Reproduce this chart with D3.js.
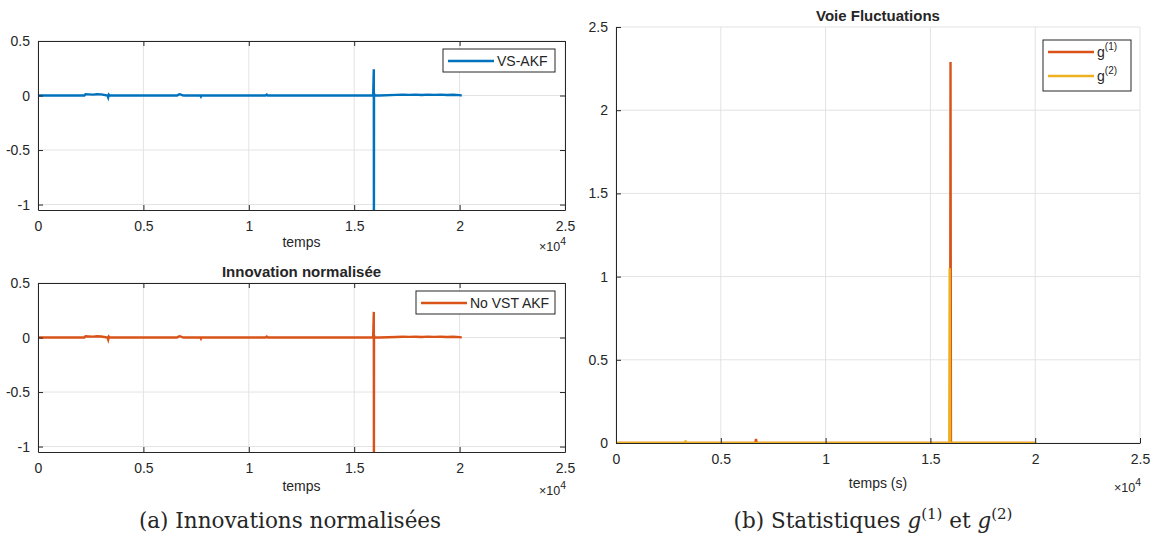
<!DOCTYPE html>
<html>
<head>
<meta charset="utf-8">
<script src="https://cdn.jsdelivr.net/npm/d3@7"></script>
<style>
  body { margin: 0; background: #fff; }
  svg text { font-family: "Liberation Sans", Arial, sans-serif; fill: #262626; }
</style>
</head>
<body>
<div id="chart-area"></div>
<script>
// ---- data ----
const xTicks = [0, 0.5, 1, 1.5, 2, 2.5]   // x10^4
const yTicksInno = [-1, -0.5, 0, 0.5]
const yTicksStat = [0, 0.5, 1, 1.5, 2, 2.5]

const timeInno = [0, 2200, 2250, 2400, 2600, 2800, 3000, 3300, 3330, 3360, 3400, 6600, 6700, 6750, 6900,
  7700, 7730, 7760, 10800, 10850, 10900, 15900, 15930, 15935, 15940, 15960, 16200, 17000, 17300, 17600,
  17900, 18200, 18500, 18800, 19100, 19400, 19700, 20000, 20100]
const vsAkf = [0, 0, 0.012, 0.01, 0.008, 0.012, 0.01, 0, -0.016, 0.008, 0, 0, 0.012, 0.01, 0,
  0, -0.01, 0, 0, 0.008, 0, 0, 0.24, -1.3, 0.02, 0, 0, 0.006, 0.008, 0.006,
  0.008, 0.005, 0.008, 0.006, 0.008, 0.005, 0.007, 0.004, 0]
const noVstAkf = [0, 0, 0.011, 0.01, 0.008, 0.011, 0.009, 0, -0.018, 0.008, 0, 0, 0.011, 0.01, 0,
  0, -0.011, 0, 0, 0.008, 0, 0, 0.235, -1.3, 0.02, 0, 0, 0.005, 0.007, 0.006,
  0.007, 0.005, 0.008, 0.006, 0.007, 0.005, 0.007, 0.004, 0]

const timeStat = [0, 3300, 3320, 3340, 6650, 6680, 6710, 15880, 15900, 15920, 15940, 15960, 15980, 20000]
const g1 = [0, 0, 0, 0, 0, 0.025, 0, 0, 0, 0, 0, 2.29, 0, 0]
const g2 = [0, 0, 0.015, 0, 0, 0, 0, 0, 0, 1.05, 0, 0, 0, 0]

const BLUE = "#0072BD", ORANGE = "#D95319", YELLOW = "#EDB120"

const svg = d3.select("#chart-area").append("svg")
  .attr("width", 1159)
  .attr("height", 545)

let clipId = 0

function panel(opt) {
  const { left, right, top, bottom } = opt.box
  const x = d3.scaleLinear().domain([0, 25000]).range([left, right])
  const y = d3.scaleLinear().domain(opt.yDomain).range([bottom, top])
  const g = svg.append("g")

  // grid
  g.selectAll(".gx").data(xTicks).enter().append("line")
    .attr("x1", d => x(d * 1e4)).attr("x2", d => x(d * 1e4))
    .attr("y1", top).attr("y2", bottom)
    .attr("stroke", "#e3e3e3").attr("stroke-width", 1)
  g.selectAll(".gy").data(opt.yTicks).enter().append("line")
    .attr("x1", left).attr("x2", right)
    .attr("y1", d => y(d)).attr("y2", d => y(d))
    .attr("stroke", "#e3e3e3").attr("stroke-width", 1)

  // data
  const id = "clip" + (clipId++)
  g.append("clipPath").attr("id", id).append("rect")
    .attr("x", left).attr("y", top).attr("width", right - left).attr("height", bottom - top)
  const line = d3.line().x(d => x(d[0])).y(d => y(d[1]))
  opt.series.forEach(s => {
    g.append("path")
      .datum(s.t.map((t, i) => [t, s.v[i]]))
      .attr("clip-path", `url(#${id})`)
      .attr("fill", "none")
      .attr("stroke", s.color)
      .attr("stroke-width", 2.4)
      .attr("d", line)
  })

  // axes
  const xAxis = d3.axisBottom(x).tickValues(xTicks.map(d => d * 1e4))
    .tickFormat(d => d / 1e4).tickSizeInner(-5).tickSizeOuter(0).tickPadding(11)
  const gx = g.append("g").attr("transform", `translate(0,${bottom})`).call(xAxis)
  const yAxis = d3.axisLeft(y).tickValues(opt.yTicks).tickFormat(d => d)
    .tickSizeInner(-5).tickSizeOuter(0).tickPadding(8)
  const gy = g.append("g").attr("transform", `translate(${left},0)`).call(yAxis)
  ;[gx, gy].forEach(a => {
    a.select(".domain").attr("stroke", "#262626")
    a.selectAll(".tick line").attr("stroke", "#262626")
    a.selectAll("text").attr("font-size", "14px").attr("fill", "#262626")
      .style("font-family", "Liberation Sans, Arial, sans-serif")
  })

  if (opt.boxOn) {
    const xTop = d3.axisTop(x).tickValues(xTicks.map(d => d * 1e4))
      .tickFormat("").tickSizeInner(-5).tickSizeOuter(0)
    const yRight = d3.axisRight(y).tickValues(opt.yTicks).tickFormat("").tickSizeInner(-5).tickSizeOuter(0)
    const gt = g.append("g").attr("transform", `translate(0,${top})`).call(xTop)
    const gr = g.append("g").attr("transform", `translate(${right},0)`).call(yRight)
    ;[gt, gr].forEach(a => {
      a.select(".domain").attr("stroke", "#262626")
      a.selectAll(".tick line").attr("stroke", "#262626")
    })
  }

  // labels
  g.append("text")
    .attr("x", (left + right) / 2).attr("y", bottom + opt.xLabelDy)
    .attr("text-anchor", "middle").attr("font-size", "14px")
    .text(opt.xLabel)
  const m = g.append("text")
    .attr("x", right + 1).attr("y", bottom + opt.xLabelDy + 4)
    .attr("text-anchor", "end")
    .attr("font-size", "12.5px")
  m.append("tspan").text("×10")
  m.append("tspan").attr("dy", -6).attr("font-size", "10.5px").text("4")

  if (opt.title) {
    g.append("text")
      .attr("x", (left + right) / 2).attr("y", top - 6)
      .attr("text-anchor", "middle").attr("font-size", "15px").attr("font-weight", "bold")
      .attr("fill", "#000")
      .text(opt.title)
  }

  // legend
  const L = opt.legend
  g.append("rect")
    .attr("x", L.x).attr("y", L.y).attr("width", L.w).attr("height", L.h)
    .attr("fill", "#fff").attr("stroke", "#262626").attr("stroke-width", 1)
  L.items.forEach((it, i) => {
    const cy = L.y + 12 + i * 24
    g.append("line")
      .attr("x1", L.x + 5).attr("x2", L.x + 51)
      .attr("y1", cy).attr("y2", cy)
      .attr("stroke", it.color).attr("stroke-width", 2.4)
    const t = g.append("text")
      .attr("x", L.x + 54).attr("y", cy + 5)
      .attr("font-size", "14px").attr("fill", "#000")
    t.append("tspan").text(it.label)
    if (it.sup) t.append("tspan").attr("dy", -7).attr("font-size", "10px").text(it.sup)
  })
}

panel({
  box: { left: 38, right: 565, top: 41, bottom: 210 },
  yDomain: [-1.05, 0.5], yTicks: yTicksInno, boxOn: true,
  xLabel: "temps", xLabelDy: 37,
  series: [{ t: timeInno, v: vsAkf, color: BLUE }],
  legend: { x: 443, y: 49, w: 112, h: 23, items: [{ label: "VS-AKF", color: BLUE }] }
})

panel({
  box: { left: 38, right: 565, top: 283, bottom: 452 },
  yDomain: [-1.05, 0.5], yTicks: yTicksInno, boxOn: true,
  title: "Innovation normalisée",
  xLabel: "temps", xLabelDy: 39,
  series: [{ t: timeInno, v: noVstAkf, color: ORANGE }],
  legend: { x: 416, y: 291, w: 139, h: 23, items: [{ label: "No VST AKF", color: ORANGE }] }
})

panel({
  box: { left: 616, right: 1140, top: 27, bottom: 443 },
  yDomain: [0, 2.5], yTicks: yTicksStat, boxOn: false,
  title: "Voie Fluctuations",
  xLabel: "temps (s)", xLabelDy: 45,
  series: [{ t: timeStat, v: g1, color: ORANGE }, { t: timeStat, v: g2, color: YELLOW }],
  legend: { x: 1043, y: 40, w: 88, h: 51, items: [
    { label: "g", sup: "(1)", color: ORANGE },
    { label: "g", sup: "(2)", color: YELLOW }] }
})

// captions
const capA = svg.append("text").attr("x", 290).attr("y", 528)
  .attr("text-anchor", "middle").attr("font-size", "21.5px")
  .style("font-family", "DejaVu Serif, serif").attr("fill", "#000")
  .text("(a) Innovations normalisées")
const capB = svg.append("text").attr("x", 873).attr("y", 528)
  .attr("text-anchor", "middle").attr("font-size", "21.5px")
  .style("font-family", "DejaVu Serif, serif").attr("fill", "#000")
capB.append("tspan").text("(b) Statistiques ")
capB.append("tspan").attr("font-style", "italic").text("g")
capB.append("tspan").attr("dy", -9).attr("font-size", "15px").text("(1)")
capB.append("tspan").attr("dy", 9).text(" et ")
capB.append("tspan").attr("font-style", "italic").text("g")
capB.append("tspan").attr("dy", -9).attr("font-size", "15px").text("(2)")
</script>
</body>
</html>
